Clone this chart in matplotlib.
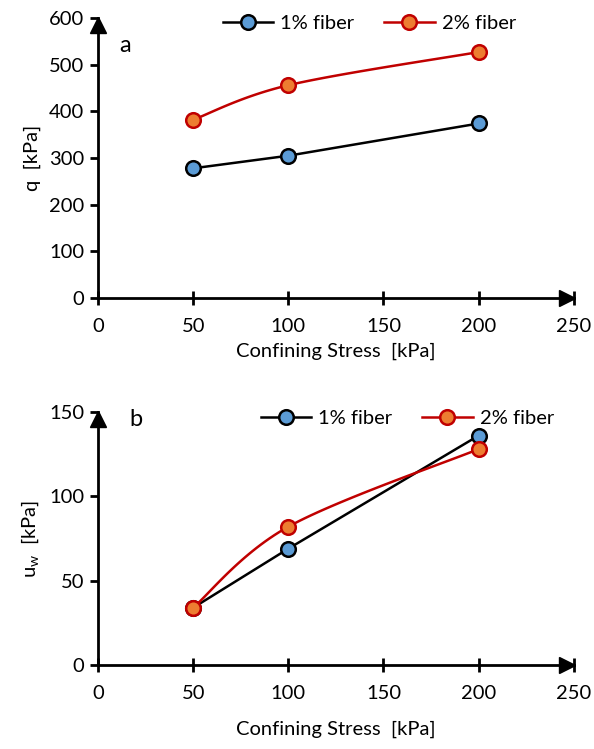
import numpy as np
import matplotlib.pyplot as plt
import matplotlib.transforms as mtransforms

plt.rcParams['font.family'] = ['Lato', 'DejaVu Sans']
plt.rcParams['font.size'] = 14.5

stress = [50, 100, 200]
q_1 = [278, 305, 374]
q_2 = [382, 456, 527]
uw_1 = [34, 69, 136]
uw_2 = [34, 82, 128]


def smooth(x, y, n=30, t=0.5):
    # cardinal spline through the points, like excel's smoothed line
    x = np.asarray(x, float)
    y = np.asarray(y, float)
    px = np.concatenate([[x[0]], x, [x[-1]]])
    py = np.concatenate([[y[0]], y, [y[-1]]])
    xs, ys = [], []
    for i in range(1, len(px) - 2):
        m0x = t * (px[i + 1] - px[i - 1]); m0y = t * (py[i + 1] - py[i - 1])
        m1x = t * (px[i + 2] - px[i]); m1y = t * (py[i + 2] - py[i])
        s = np.linspace(0, 1, n)
        h00 = 2*s**3 - 3*s**2 + 1; h10 = s**3 - 2*s**2 + s
        h01 = -2*s**3 + 3*s**2; h11 = s**3 - s**2
        xs.append(h00*px[i] + h10*m0x + h01*px[i+1] + h11*m1x)
        ys.append(h00*py[i] + h10*m0y + h01*py[i+1] + h11*m1y)
    return np.concatenate(xs), np.concatenate(ys)


fig = plt.figure(figsize=(5.94, 7.49), dpi=100)
ax1 = fig.add_axes([0.165, 0.602, 0.801, 0.374])
ax2 = fig.add_axes([0.165, 0.112, 0.801, 0.338])

blue = '#5B9BD5'
orange = '#ED7D31'
red = '#C00000'


def style(ax, ymax, ystep, ylabel, tag, tagpos, xlabpad):
    ax.set_xlim(0, 250)
    ax.set_ylim(0, ymax)
    ax.set_xticks(np.arange(0, 251, 50))
    ax.set_yticks(np.arange(0, ymax + 1, ystep))
    for s in ['top', 'right']:
        ax.spines[s].set_visible(False)
    for s in ['left', 'bottom']:
        ax.spines[s].set_linewidth(2)
    ax.tick_params(axis='y', direction='out', length=6, width=2, pad=4)
    ax.tick_params(axis='x', direction='inout', length=10, width=2, pad=9)
    tx = mtransforms.offset_copy(ax.get_yaxis_transform(), fig=fig, x=-5, units='points')
    ax.plot(1, 0, '>k', ms=11, transform=tx, clip_on=False)
    ty = mtransforms.offset_copy(ax.get_xaxis_transform(), fig=fig, y=-5, units='points')
    ax.plot(0, 1, '^k', ms=11, transform=ty, clip_on=False)
    ax.set_xlabel('Confining Stress  [kPa]', labelpad=xlabpad)
    ax.set_ylabel(ylabel, labelpad=6)
    ax.text(tagpos[0], tagpos[1], tag, transform=ax.transAxes, fontsize=17, va='center')


mk = dict(marker='o', ms=10.5, mew=1.8)
leg = dict(loc='upper center', ncol=2, frameon=False,
           handlelength=2.5, columnspacing=1.5, handletextpad=0.35)

ax1.plot(stress, q_1, color='black', lw=1.8, mfc=blue, mec='black', label='1% fiber', **mk)
sx, sy = smooth(stress, q_2)
ax1.plot(sx, sy, color=red, lw=1.8)
ax1.plot(stress, q_2, ls='none', mfc=orange, mec=red, **mk)
ax1.plot([], [], color=red, lw=1.8, mfc=orange, mec=red, label='2% fiber', **mk)
style(ax1, 600, 100, 'q  [kPa]', 'a', (0.045, 0.9), 6)
ax1.legend(bbox_to_anchor=(0.57, 1.075), **leg)

ax2.plot(stress, uw_1, color='black', lw=1.8, mfc=blue, mec='black', label='1% fiber', **mk)
sx, sy = smooth(stress, uw_2)
ax2.plot(sx, sy, color=red, lw=1.8)
ax2.plot(stress, uw_2, ls='none', mfc=orange, mec=red, **mk)
ax2.plot([], [], color=red, lw=1.8, mfc=orange, mec=red, label='2% fiber', **mk)
style(ax2, 150, 50, r'u$_\mathregular{w}$  [kPa]', 'b', (0.065, 0.97), 14)
ax2.legend(bbox_to_anchor=(0.65, 1.08), **leg)

fig.savefig('out.png', dpi=100)
